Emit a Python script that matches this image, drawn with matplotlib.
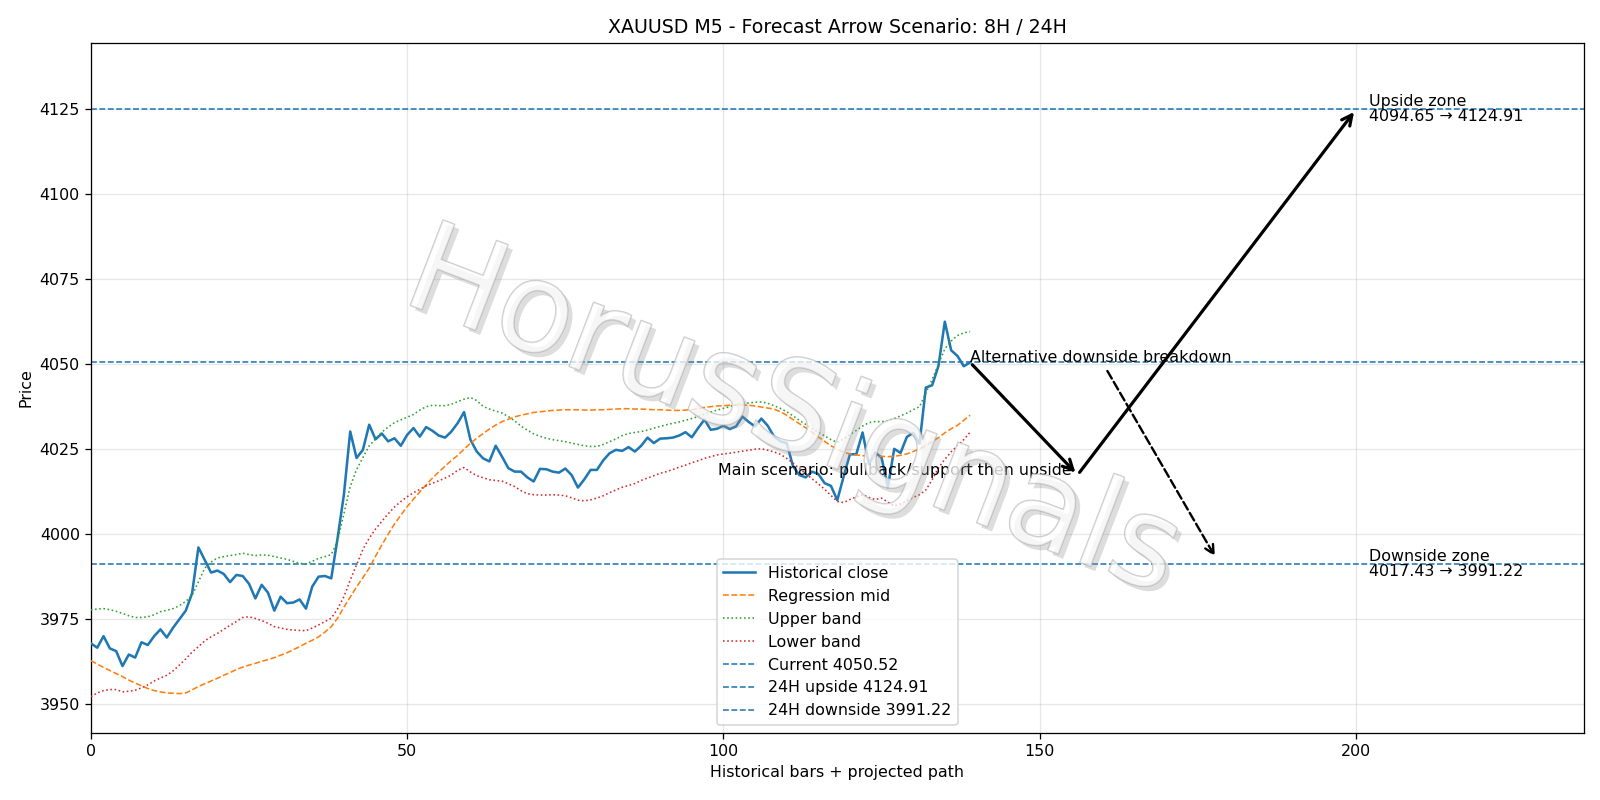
import matplotlib
matplotlib.use("Agg")
import matplotlib.pyplot as plt
import matplotlib.patheffects as pe

# ---------------- data ----------------
close = [3967.9, 3966.6, 3970.0, 3966.4, 3965.6, 3961.2, 3964.6, 3963.7, 3968.2, 3967.4,
         3970.0, 3972.0, 3969.6, 3972.5, 3975.0, 3977.5, 3982.6, 3996.1, 3992.4, 3988.7,
         3989.3, 3988.3, 3985.9, 3988.0, 3987.7, 3985.4, 3981.1, 3985.1, 3982.8, 3977.5,
         3981.6, 3979.7, 3979.9, 3980.8, 3978.1, 3984.6, 3987.5, 3987.7, 3987.0, 3998.8,
         4011.6, 4030.2, 4022.4, 4024.8, 4032.2, 4027.9, 4029.6, 4027.3, 4028.2, 4026.0,
         4029.2, 4031.2, 4028.7, 4031.5, 4030.4, 4029.0, 4028.4, 4030.2, 4032.7, 4035.9,
         4027.8, 4024.3, 4022.3, 4021.4, 4026.0, 4022.8, 4019.4, 4018.4, 4018.4, 4016.7,
         4015.5, 4019.2, 4019.1, 4018.4, 4018.1, 4019.3, 4017.4, 4013.7, 4016.1, 4018.9,
         4018.9, 4021.7, 4023.8, 4024.8, 4024.5, 4025.6, 4024.3, 4026.0, 4028.4, 4026.8,
         4028.1, 4028.2, 4028.4, 4029.0, 4030.0, 4028.5, 4031.2, 4033.7, 4030.7, 4031.0,
         4031.9, 4030.9, 4031.7, 4034.6, 4033.0, 4031.7, 4034.0, 4031.9, 4028.7, 4027.3,
         4026.8, 4020.0, 4017.4, 4016.7, 4018.4, 4017.7, 4015.0, 4014.2, 4010.0, 4016.9,
         4023.5, 4023.5, 4029.9, 4020.6, 4024.0, 4022.5, 4013.8, 4025.1, 4023.9, 4028.6,
         4029.8, 4026.6, 4043.1, 4043.8, 4049.5, 4062.5, 4054.1, 4052.4, 4049.4, 4050.52]

reg_mid = [3962.8, 3961.8, 3960.8, 3959.9, 3959.0, 3958.1, 3957.1, 3956.2, 3955.4, 3954.6,
           3954.0, 3953.6, 3953.3, 3953.2, 3953.1, 3953.3, 3954.2, 3955.2, 3956.0, 3956.8,
           3957.6, 3958.5, 3959.3, 3960.2, 3960.9, 3961.5, 3962.0, 3962.6, 3963.1, 3963.7,
           3964.4, 3965.1, 3966.0, 3966.9, 3967.9, 3968.8, 3969.8, 3971.2, 3972.8, 3975.3,
           3978.5, 3981.5, 3984.5, 3987.2, 3990.0, 3993.5, 3996.8, 4000.0, 4003.0, 4005.6,
           4008.1, 4010.3, 4012.4, 4014.5, 4016.5, 4018.3, 4020.0, 4021.7, 4023.2, 4025.0,
           4026.7, 4028.2, 4029.6, 4030.9, 4032.1, 4033.1, 4033.8, 4034.5, 4035.0, 4035.4,
           4035.8, 4036.0, 4036.2, 4036.4, 4036.5, 4036.6, 4036.6, 4036.6, 4036.5, 4036.5,
           4036.6, 4036.6, 4036.7, 4036.8, 4036.9, 4036.9, 4036.8, 4036.8, 4036.7, 4036.6,
           4036.6, 4036.5, 4036.4, 4036.4, 4036.5, 4036.6, 4036.9, 4037.3, 4037.5, 4037.7,
           4037.8, 4037.9, 4038.0, 4038.0, 4037.9, 4037.7, 4037.4, 4037.1, 4036.8, 4036.0,
           4035.0, 4033.7, 4032.5, 4031.3, 4030.0, 4028.6, 4027.3, 4026.0, 4025.0, 4024.1,
           4023.6, 4023.3, 4023.1, 4023.0, 4023.0, 4022.9, 4022.8, 4022.9, 4023.2, 4023.6,
           4024.3, 4025.1, 4026.0, 4027.2, 4028.4, 4029.8, 4031.0, 4032.0, 4033.5, 4035.0]

upper_band = [3977.7, 3978.0, 3978.1, 3977.8, 3977.3, 3976.7, 3976.0, 3975.5, 3975.5, 3975.7,
              3976.3, 3977.2, 3977.6, 3978.1, 3979.0, 3980.2, 3982.0, 3986.0, 3990.0, 3991.8,
              3993.0, 3993.4, 3993.7, 3994.0, 3994.4, 3994.0, 3993.7, 3993.9, 3993.8, 3993.4,
              3993.0, 3992.6, 3992.0, 3991.4, 3991.3, 3992.0, 3992.9, 3993.4, 3994.0, 3998.0,
              4006.0, 4014.0, 4019.0, 4022.5, 4026.0, 4028.0, 4030.0, 4031.5, 4032.8, 4033.6,
              4034.4, 4035.2, 4036.5, 4037.5, 4037.9, 4037.8, 4037.8, 4038.2, 4039.0, 4039.7,
              4040.2, 4039.3, 4037.6, 4036.8, 4036.2, 4035.6, 4034.6, 4033.3, 4031.8, 4030.6,
              4029.5, 4028.8, 4028.2, 4027.8, 4027.5, 4027.2, 4026.8, 4026.4, 4026.0, 4025.8,
              4025.8, 4026.4, 4027.2, 4028.0, 4029.0, 4029.6, 4029.9, 4030.2, 4030.6, 4031.2,
              4031.7, 4032.2, 4032.6, 4033.0, 4033.5, 4034.0, 4034.6, 4035.3, 4035.9, 4036.5,
              4037.0, 4037.5, 4038.1, 4038.4, 4038.6, 4038.8, 4038.9, 4038.5, 4037.8, 4037.0,
              4036.0, 4034.8, 4033.5, 4032.3, 4031.1, 4030.0, 4028.9, 4027.8, 4027.0, 4028.0,
              4029.3, 4030.5, 4031.8, 4032.8, 4033.1, 4033.1, 4033.3, 4034.0, 4034.8, 4035.6,
              4036.6, 4037.5, 4041.5, 4045.5, 4050.0, 4054.5, 4056.8, 4058.4, 4059.2, 4059.6]

lower_band = [3952.2, 3953.3, 3954.0, 3954.3, 3954.3, 3953.6, 3953.8, 3954.1, 3954.8, 3955.7,
              3956.8, 3957.7, 3958.5, 3959.8, 3961.5, 3963.3, 3965.3, 3966.9, 3968.6, 3969.8,
              3970.8, 3972.0, 3973.2, 3974.3, 3975.5, 3975.7, 3975.2, 3974.6, 3973.8, 3972.8,
              3972.4, 3972.0, 3971.8, 3971.7, 3971.6, 3972.4, 3973.3, 3974.3, 3975.3, 3978.0,
              3981.6, 3986.5, 3991.0, 3995.5, 3998.8, 4001.5, 4003.8, 4006.0, 4008.0, 4009.6,
              4011.0, 4012.2, 4013.2, 4014.2, 4015.0, 4015.7, 4016.5, 4017.4, 4018.8, 4019.6,
              4018.3, 4017.2, 4016.6, 4016.0, 4015.8, 4015.6, 4014.8, 4014.0, 4012.8, 4011.9,
              4011.6, 4011.5, 4011.5, 4011.6, 4011.5, 4011.3, 4010.7, 4010.0, 4009.8, 4010.1,
              4010.6, 4011.3, 4012.2, 4013.0, 4013.8, 4014.3, 4014.9, 4015.8, 4016.5, 4017.2,
              4017.9, 4018.4, 4019.0, 4019.7, 4020.3, 4021.0, 4021.6, 4022.3, 4022.8, 4023.3,
              4023.6, 4023.8, 4024.1, 4024.4, 4024.7, 4025.0, 4025.1, 4024.7, 4024.2, 4023.5,
              4022.3, 4020.9, 4019.3, 4017.8, 4016.3, 4014.8, 4013.2, 4011.4, 4009.6, 4009.3,
              4010.2, 4011.0, 4011.6, 4010.8, 4010.2, 4010.6, 4009.4, 4008.3, 4008.9, 4009.8,
              4010.8, 4011.6, 4013.0, 4016.0, 4019.5, 4022.0, 4024.2, 4026.0, 4027.8, 4030.0]

current_price = 4050.52
upside_24h = 4124.91
downside_24h = 3991.22
upside_zone = (4094.65, 4124.91)
downside_zone = (4017.43, 3991.22)

# projected main path (bar index, price)
main_path_x = [139, 156, 200]
main_path_y = [4050.52, 4017.43, 4124.91]
# alternative path
alt_path_x = [160.7, 177.7]
alt_path_y = [4048.0, 3993.5]

bars = list(range(len(close)))

# ---------------- plot ----------------
DPI = 800 / 7
fig = plt.figure(figsize=(14, 7), dpi=DPI)
ax = fig.add_axes([0.0568, 0.0841, 0.9330, 0.8623])

ax.plot(bars, close, color="C0", lw=1.6, label="Historical close", zorder=3)
ax.plot(bars, reg_mid, color="C1", lw=1, ls="--", label="Regression mid", zorder=3)
ax.plot(bars, upper_band, color="C2", lw=1, ls=":", label="Upper band", zorder=3)
ax.plot(bars, lower_band, color="C3", lw=1, ls=":", label="Lower band", zorder=3)

ax.axhline(current_price, color="C0", lw=1, ls="--", label=f"Current {current_price:.2f}")
ax.axhline(upside_24h, color="C0", lw=1, ls="--", label=f"24H upside {upside_24h:.2f}")
ax.axhline(downside_24h, color="C0", lw=1, ls="--", label=f"24H downside {downside_24h:.2f}")

# main scenario arrows
for i in range(len(main_path_x) - 1):
    ax.annotate("", xy=(main_path_x[i + 1], main_path_y[i + 1]),
                xytext=(main_path_x[i], main_path_y[i]),
                arrowprops=dict(arrowstyle="->", lw=2, color="black",
                                mutation_scale=16), zorder=5)
# alternative dashed arrow
ax.annotate("", xy=(alt_path_x[1], alt_path_y[1]), xytext=(alt_path_x[0], alt_path_y[0]),
            arrowprops=dict(arrowstyle="->", lw=1.5, ls="--", color="black",
                            mutation_scale=14, shrinkA=0, shrinkB=0), zorder=5)

ax.text(main_path_x[0], main_path_y[0], "Alternative downside breakdown",
        fontsize=10, ha="left", va="baseline", zorder=6)
ax.text(main_path_x[1] - 1, main_path_y[1], "Main scenario: pullback/support then upside",
        fontsize=10, ha="right", va="baseline", zorder=6)
ax.text(202, upside_24h, f"Upside zone\n{upside_zone[0]:.2f} \u2192 {upside_zone[1]:.2f}",
        fontsize=10, ha="left", va="center", linespacing=1.0)
ax.text(202, downside_24h, f"Downside zone\n{downside_zone[0]:.2f} \u2192 {downside_zone[1]:.2f}",
        fontsize=10, ha="left", va="center", linespacing=1.0)

# watermark
fig.text(0.4955, 0.481, "HorusSignals", fontsize=79, rotation=-21, ha="center", va="center",
         color="white", alpha=0.4, zorder=10,
         path_effects=[pe.SimplePatchShadow(offset=(3, -3), shadow_rgbFace="#909090", alpha=0.3),
                       pe.Stroke(linewidth=1.0, foreground="#a8a8a8", alpha=0.6), pe.Normal()])

ax.set_xlim(0, 236)
ax.set_ylim(3941.6, 4144.5)
ax.set_title("XAUUSD M5 - Forecast Arrow Scenario: 8H / 24H", fontsize=12)
ax.set_xlabel("Historical bars + projected path")
ax.set_ylabel("Price")
ax.grid(True, alpha=0.3)
ax.legend(loc="lower center", fontsize=10)

fig.savefig("out.png", dpi=DPI)
